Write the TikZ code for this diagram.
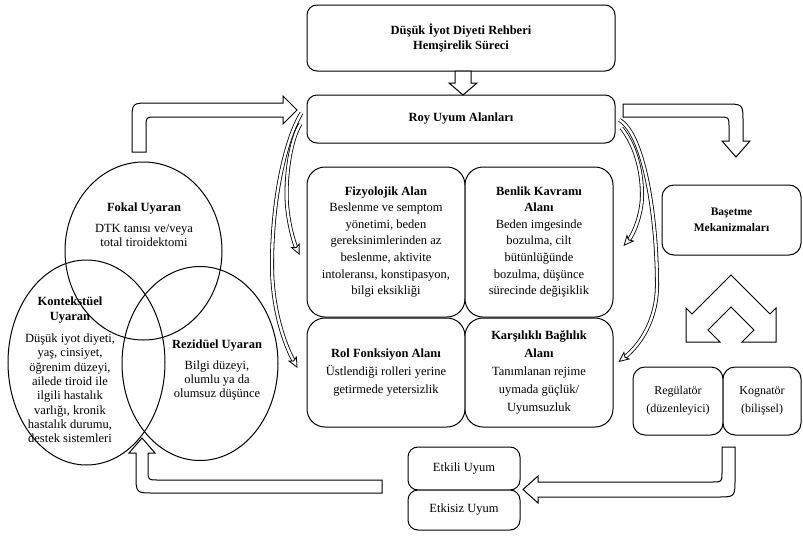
\documentclass[tikz,border=0pt]{standalone}
\usepackage{fontspec}
\setmainfont{Liberation Serif}
\usetikzlibrary{shapes.geometric,arrows.meta}
\begin{document}
\begin{tikzpicture}[x=1pt,y=-1pt,
  box/.style={draw, line width=1pt, rounded corners=#1, align=center, inner sep=0pt, fill=white},
  box/.default=10pt,
  ell/.style={draw, line width=1pt, ellipse, inner sep=0pt},
  tA/.style={font=\fontsize{12.5}{18}\selectfont},
  tC/.style={font=\fontsize{12.5}{16.6}\selectfont},
  tB/.style={font=\fontsize{12.5}{14.3}\selectfont},
  tT/.style={font=\fontsize{12.5}{15}\selectfont\bfseries},
  tR/.style={font=\fontsize{12}{18}\selectfont},
  blk/.style={draw, line width=1pt, fill=white, line join=miter},
  cur/.style={double, double distance=2.4pt, line width=0.8pt,
    -{Stealth[open, length=11pt, width=10pt, inset=2.5pt]}}
]
\fill[white] (0,0) rectangle (803,536);
\useasboundingbox (0,0) rectangle (803,536);

% ellipses
\node[ell, minimum width=157pt, minimum height=178pt] (fokal) at (143.5,251) {};
\node[ell, minimum width=157pt, minimum height=205pt] (kont) at (86.5,362.5) {};
\node[ell, minimum width=156pt, minimum height=194pt] (rez) at (200,363.5) {};
\node[tB, align=center] (fokaltxt) at (144,225) {\textbf{Fokal Uyaran}\\[6pt]DTK tanısı ve/veya\\total tiroidektomi};
\node[tB, align=center] (konttxt) at (70,370) {\textbf{Kontekstüel}\\\textbf{Uyaran}\\[8pt]Düşük iyot diyeti,\\yaş, cinsiyet,\\öğrenim düzeyi,\\ailede tiroid ile\\ilgili hastalık\\varlığı, kronik\\hastalık durumu,\\destek sistemleri};
\node[tB, align=center] (reztxt) at (217,370) {\textbf{Rezidüel Uyaran}\\[7pt]Bilgi düzeyi,\\olumlu ya da\\olumsuz düşünce};

% boxes
\node[box, tT, minimum width=308pt, minimum height=66pt] (top) at (461,38) {Düşük İyot Diyeti Rehberi\\Hemşirelik Süreci};
\node[box, tT, minimum width=308pt, minimum height=48pt] (roy) at (461,119) {Roy Uyum Alanları};

\node[box=18pt, tC, minimum width=158pt, minimum height=150pt] (fiz) at (386,242) {\textbf{Fizyolojik Alan}\\Beslenme ve semptom\\yönetimi, beden\\gereksinimlerinden az\\beslenme, aktivite\\intoleransı, konstipasyon,\\bilgi eksikliği};
\node[box=18pt, tC, minimum width=148pt, minimum height=150pt] (ben) at (539,242) {\textbf{Benlik Kavramı}\\\textbf{Alanı}\\Beden imgesinde\\bozulma, cilt\\bütünlüğünde\\bozulma, düşünce\\sürecinde değişiklik};
\node[box=18pt, tA, minimum width=158pt, minimum height=109pt] (rol) at (386,372.5) {\textbf{Rol Fonksiyon Alanı}\\Üstlendiği rolleri yerine\\getirmede yetersizlik};
\node[box=18pt, tA, minimum width=148pt, minimum height=109pt] (kar) at (539,372.5) {\textbf{Karşılıklı Bağlılık}\\\textbf{Alanı}\\Tanımlanan rejime\\uymada güçlük/\\Uyumsuzluk};

\node[box, tA, minimum width=112pt, minimum height=43pt] (etkili) at (464,468.5) {Etkili Uyum};
\node[box, tA, minimum width=112pt, minimum height=40pt] (etkisiz) at (464,510) {Etkisiz Uyum};

\node[box=12pt, font=\fontsize{11.5}{16}\selectfont\bfseries, minimum width=139pt, minimum height=70pt] (bas) at (731.5,220) {Başetme\\Mekanizmaları};
\node[box=12pt, tR, minimum width=90pt, minimum height=68pt] (reg) at (678,401) {Regülatör\\(düzenleyici)};
\node[box=12pt, tR, minimum width=78pt, minimum height=68pt] (kog) at (762,401) {Kognatör\\(bilişsel)};

% curved arrows
\draw[cur] ([xshift=-5pt,yshift=6pt]roy.west) .. controls (285,140) and (272,200) .. (272,265)
  .. controls (272,310) and (285,345) .. ([xshift=-9pt,yshift=4.5pt]rol.west);
\draw[cur] ([xshift=-6pt,yshift=-5pt]roy.west) .. controls (290,140) and (285,180) .. (287,205)
  .. controls (289,228) and (295,245) .. ([xshift=-7pt,yshift=-13pt]fiz.west);
\draw[cur] ([xshift=4pt,yshift=-1pt]roy.east) .. controls (645,135) and (657,220) .. (657,285)
  .. controls (657,320) and (640,345) .. ([xshift=5pt,yshift=10.5pt]kar.east);
\draw[cur] ([xshift=6pt,yshift=-9pt]roy.east) .. controls (635,145) and (642,170) .. (642,195)
  .. controls (642,215) and (633,235) .. ([xshift=10pt,yshift=-4pt]ben.east);

% block arrows
\draw[blk] (455,71) -- (471,71) -- (471,83) -- (477,83) -- (463,95) -- (449,83) -- (455,83) -- cycle;
\draw[blk] (132,152) -- (132,121) .. controls (132,103) .. (150,103) -- (283,103) -- (283,96) -- (297,110)
  -- (283,124) -- (283,117) -- (156,117) .. controls (146,117) .. (146,127) -- (146,152) -- cycle;
\draw[blk] (623,104) -- (725,104) .. controls (743,104) .. (743,122) -- (743,141) -- (750,141) -- (736,157)
  -- (722,141) -- (729,141) -- (729,127) .. controls (729,117) .. (719,117) -- (623,117) -- cycle;
\draw[blk] (722,447) -- (735,447) -- (735,479) .. controls (735,497) .. (717,497) -- (538,497) -- (538,503)
  -- (523,489.5) -- (538,476) -- (538,482) -- (712,482) .. controls (722,482) .. (722,472) -- cycle;
\draw[blk] (382,480) -- (158,480) .. controls (148,480) .. (148,470) -- (148,453) -- (155,453) -- (142,438)
  -- (129,453) -- (136,453) -- (136,475) .. controls (136,493) .. (154,493) -- (382,493) -- cycle;
% chevron double arrow
\draw[blk] (731,275) -- (770,314) -- (776,308) -- (776,342) -- (742,342) -- (754,330) -- (731,307)
  -- (708,330) -- (720,342) -- (686,342) -- (686,308) -- (692,314) -- cycle;
\end{tikzpicture}
\end{document}
